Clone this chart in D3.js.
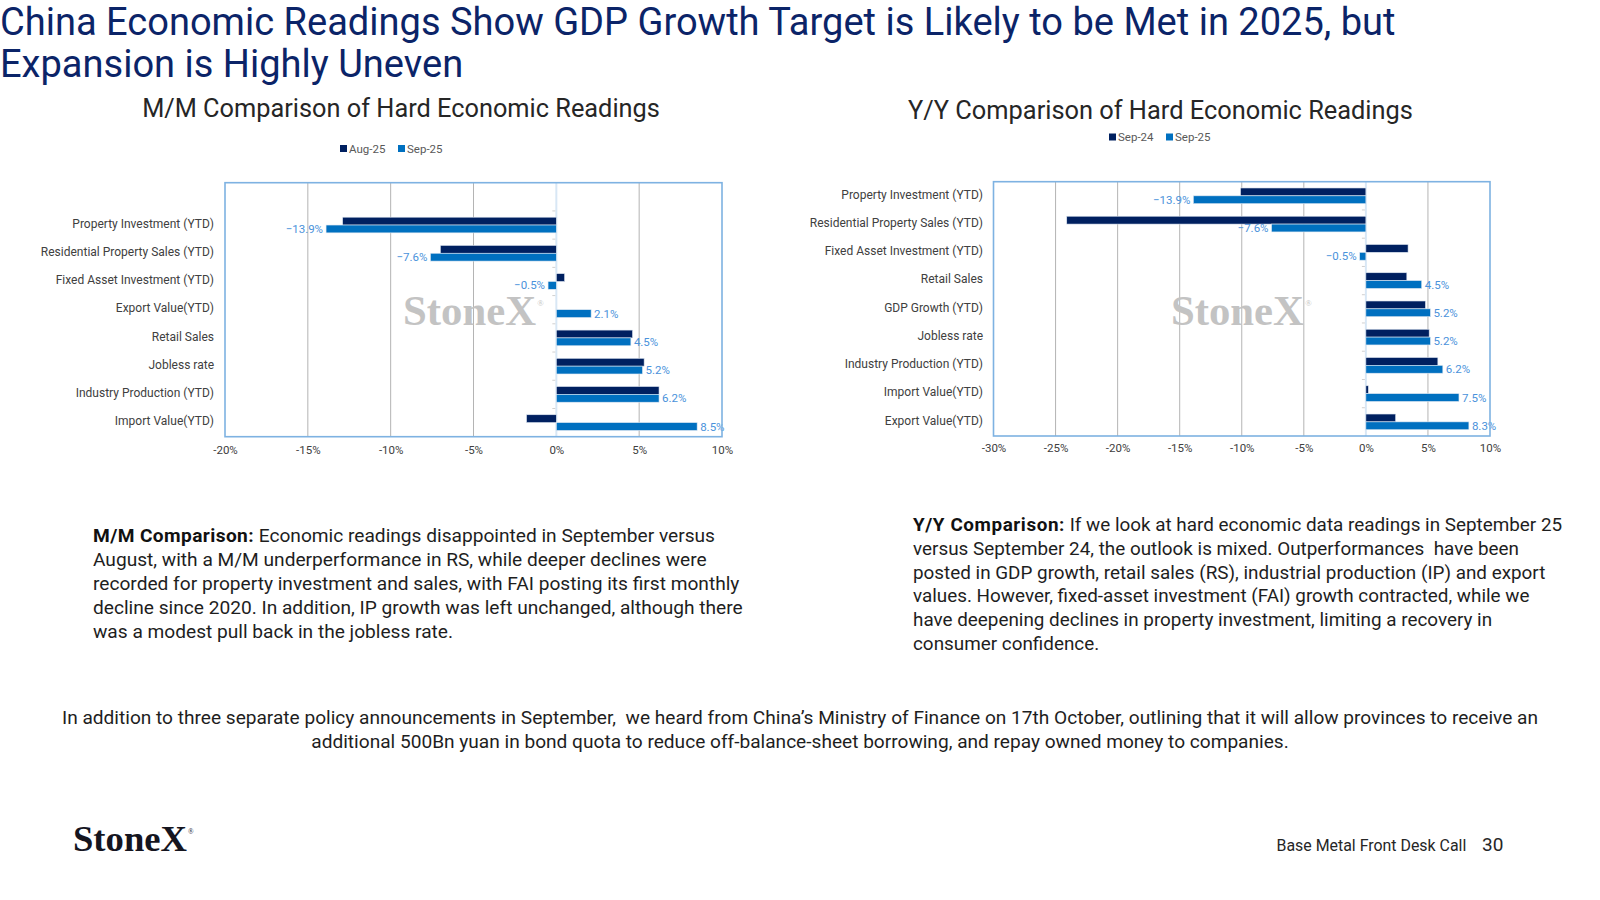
<!DOCTYPE html>
<html>
<head>
<meta charset="utf-8">
<script src="https://cdn.jsdelivr.net/npm/d3@7"></script>
<style>
  html, body { margin: 0; padding: 0; background: #ffffff; }
  svg { display: block; }
</style>
</head>
<body>
<svg id="chart" width="1600" height="900"></svg>
<script>
// ---------------- DATA ----------------
const mmCategories = ["Property Investment (YTD)", "Residential Property Sales (YTD)", "Fixed Asset Investment (YTD)", "Export Value(YTD)", "Retail Sales", "Jobless rate", "Industry Production (YTD)", "Import Value(YTD)"];
const mmSeriesNames = ["Aug-25", "Sep-25"];
const mmAug25 = [-12.9, -7.0, 0.5, null, 4.6, 5.3, 6.2, -1.8];
const mmSep25 = [-13.9, -7.6, -0.5, 2.1, 4.5, 5.2, 6.2, 8.5];
const mmTicks = [-20, -15, -10, -5, 0, 5, 10];

const yyCategories = ["Property Investment (YTD)", "Residential Property Sales (YTD)", "Fixed Asset Investment (YTD)", "Retail Sales", "GDP Growth (YTD)", "Jobless rate", "Industry Production (YTD)", "Import Value(YTD)", "Export Value(YTD)"];
const yySeriesNames = ["Sep-24", "Sep-25"];
const yySep24 = [-10.1, -24.1, 3.4, 3.3, 4.8, 5.1, 5.8, 0.2, 2.4];
const yySep25 = [-13.9, -7.6, -0.5, 4.5, 5.2, 5.2, 6.2, 7.5, 8.3];
const yyTicks = [-30, -25, -20, -15, -10, -5, 0, 5, 10];

const titleLines = ["China Economic Readings Show GDP Growth Target is Likely to be Met in 2025, but", "Expansion is Highly Uneven"];
const mmTitle = "M/M Comparison of Hard Economic Readings";
const yyTitle = "Y/Y Comparison of Hard Economic Readings";
const mmTextBold = "M/M Comparison:";
const mmTextLines = [" Economic readings disappointed in September versus", "August, with a M/M underperformance in RS, while deeper declines were", "recorded for property investment and sales, with FAI posting its first monthly", "decline since 2020. In addition, IP growth was left unchanged, although there", "was a modest pull back in the jobless rate."];
const yyTextBold = "Y/Y Comparison:";
const yyTextLines = [" If we look at hard economic data readings in September 25", "versus September 24, the outlook is mixed. Outperformances  have been", "posted in GDP growth, retail sales (RS), industrial production (IP) and export", "values. However, fixed-asset investment (FAI) growth contracted, while we", "have deepening declines in property investment, limiting a recovery in", "consumer confidence."];
const bottomLines = ["In addition to three separate policy announcements in September,  we heard from China’s Ministry of Finance on 17th October, outlining that it will allow provinces to receive an", "additional 500Bn yuan in bond quota to reduce off-balance-sheet borrowing, and repay owned money to companies."];
const footerText = "Base Metal Front Desk Call";
const pageNumber = "30";
const brand = "StoneX";

// ---------------- STYLE ----------------
const FONT = "Roboto, 'Liberation Sans', sans-serif";
const SERIF = "'Liberation Serif', 'DejaVu Serif', serif";
const C_DARK = "#002060";
const C_BLUE = "#0070C0";
const C_LABEL = "#4a92db";
const C_TITLE = "#0b2468";

const svg = d3.select("#chart");
svg.append("rect").attr("width", 1600).attr("height", 900).attr("fill", "#fff");

function fitWidth(sel, target) {
  const w = sel.node().getComputedTextLength();
  const fs = parseFloat(sel.attr("font-size"));
  const nfs = fs * target / w;
  sel.attr("font-size", nfs);
  return nfs;
}

function drawLogo(parent, x0, baseline, width, color) {
  const t = parent.append("text").attr("x", x0).attr("y", baseline)
    .attr("font-family", SERIF).attr("font-weight", "bold").attr("fill", color);
  const main = t.append("tspan").attr("font-size", 40).text(brand);
  const w = main.node().getComputedTextLength();
  const fs = 40 * width / w;
  main.attr("font-size", fs);
  t.append("tspan").attr("font-size", fs * 0.2).attr("font-weight", "normal")
    .attr("dx", fs * 0.03).attr("dy", -fs * 0.45).text("®");
  return t;
}

// ---------------- TITLE ----------------
const t1 = svg.append("text").attr("x", 0).attr("y", 34.5).attr("font-family", FONT)
  .attr("font-size", 36).attr("fill", C_TITLE).text(titleLines[0]);
const tfs = fitWidth(t1, 1396);
svg.append("text").attr("x", 0).attr("y", 76.5).attr("font-family", FONT)
  .attr("font-size", tfs).attr("fill", C_TITLE).text(titleLines[1]);

// ---------------- CHART FUNCTION ----------------
function drawChart(cfg) {
  const g = svg.append("g");
  const x = d3.scaleLinear().domain(cfg.domain).range([cfg.left, cfg.right]);
  const nBands = cfg.categories.length + cfg.blankBands;
  const bandH = (cfg.bottom - cfg.top) / nBands;
  const y = d3.scaleBand().domain(cfg.categories)
    .range([cfg.top + cfg.blankBands * bandH, cfg.bottom]).paddingInner(0).paddingOuter(0);
  const inner = d3.scaleBand().domain([0, 1]).range([0, y.bandwidth()]).paddingInner(0).paddingOuter(0.8);

  // subtitle
  const st = g.append("text").attr("x", cfg.titleX).attr("y", cfg.titleY).attr("text-anchor", "middle")
    .attr("font-family", FONT).attr("font-size", 24).attr("fill", "#262626").text(cfg.title);
  fitWidth(st, cfg.titleW);

  // legend
  const lg = g.append("g").attr("transform", `translate(0,${cfg.legendY})`);
  const lgColors = [C_DARK, C_BLUE];
  cfg.seriesNames.forEach((name, i) => {
    const lx = cfg.legendX[i];
    lg.append("rect").attr("x", lx).attr("y", -3.5).attr("width", 7).attr("height", 7).attr("fill", lgColors[i]);
    lg.append("text").attr("x", lx + 9).attr("y", 0).attr("dy", "0.35em")
      .attr("font-family", FONT).attr("font-size", 11.5).attr("fill", "#595959").text(name);
  });

  // gridlines
  g.append("g").selectAll("line").data(cfg.ticks.filter(t => t !== 0 && t !== cfg.domain[0] && t !== cfg.domain[1]))
    .join("line")
    .attr("x1", d => x(d)).attr("x2", d => x(d))
    .attr("y1", cfg.top).attr("y2", cfg.bottom)
    .attr("stroke", "#b4b4b4").attr("stroke-width", 1);

  // watermark
  drawLogo(g, x(cfg.wmStart), cfg.wmBaseline, 133, "#c3c3c3");

  // zero axis line + band ticks
  g.append("line").attr("x1", x(0)).attr("x2", x(0)).attr("y1", cfg.top).attr("y2", cfg.bottom)
    .attr("stroke", "#d8e7f5").attr("stroke-width", 2);
  const boundaries = d3.range(1, nBands).map(i => cfg.top + i * bandH);
  g.append("g").selectAll("line").data(boundaries).join("line")
    .attr("x1", x(0) - 4).attr("x2", x(0) - 1).attr("y1", d => d).attr("y2", d => d)
    .attr("stroke", "#d0d0d0").attr("stroke-width", 1);

  // bars
  const series = [cfg.s0, cfg.s1];
  const colors = [C_DARK, C_BLUE];
  series.forEach((vals, si) => {
    const rows = cfg.categories.map((c, i) => ({ c, v: vals[i] })).filter(d => d.v !== null);
    g.append("g").selectAll("rect").data(rows).join("rect")
      .attr("x", d => Math.min(x(0), x(d.v)))
      .attr("width", d => Math.abs(x(d.v) - x(0)))
      .attr("y", d => y(d.c) + inner(si))
      .attr("height", inner.bandwidth())
      .attr("fill", colors[si])
      .attr("stroke", "#dfe8f2").attr("stroke-width", 0.6);
  });

  // data labels (second series)
  const labRows = cfg.categories.map((c, i) => ({ c, v: cfg.s1[i] })).filter(d => d.v !== null);
  g.append("g").selectAll("text").data(labRows).join("text")
    .attr("x", d => d.v >= 0 ? x(d.v) + 3 : x(d.v) - 3)
    .attr("y", d => y(d.c) + inner(1) + inner.bandwidth() / 2)
    .attr("dy", "0.35em")
    .attr("text-anchor", d => d.v >= 0 ? "start" : "end")
    .attr("font-family", FONT).attr("font-size", 11.5).attr("fill", C_LABEL)
    .text(d => d3.format(".1f")(d.v) + "%");

  // plot border
  g.append("rect").attr("x", cfg.left).attr("y", cfg.top)
    .attr("width", cfg.right - cfg.left).attr("height", cfg.bottom - cfg.top)
    .attr("fill", "none").attr("stroke", "#7eb2e2").attr("stroke-width", 1.6);

  // category labels
  const catG = g.append("g").attr("font-family", FONT).attr("font-size", 12).attr("fill", "#404040");
  catG.selectAll("text").data(cfg.categories).join("text")
    .attr("x", cfg.labelRight).attr("y", d => y(d) + y.bandwidth() / 2 - 1.5)
    .attr("dy", "0.35em").attr("text-anchor", "end").text(d => d);

  // x axis tick labels
  const axis = d3.axisBottom(x).tickValues(cfg.ticks).tickSize(0).tickFormat(d => d + "%");
  const ax = g.append("g").attr("transform", `translate(0,${cfg.bottom})`).call(axis);
  ax.select(".domain").remove();
  ax.selectAll("text").attr("font-family", FONT).attr("font-size", 11.5).attr("fill", "#404040")
    .attr("y", cfg.tickDy);
}

drawChart({
  categories: mmCategories, s0: mmAug25, s1: mmSep25, seriesNames: mmSeriesNames,
  domain: [-20, 10], ticks: mmTicks, left: 225, right: 722, top: 182.7, bottom: 436.7, blankBands: 1,
  title: mmTitle, titleX: 401, titleY: 116.5, titleW: 518,
  legendY: 148.5, legendX: [340, 398], labelRight: 214, tickDy: 9, wmStart: -9.25, wmBaseline: 325
});
drawChart({
  categories: yyCategories, s0: yySep24, s1: yySep25, seriesNames: yySeriesNames,
  domain: [-30, 10], ticks: yyTicks, left: 993.5, right: 1490, top: 181.7, bottom: 436, blankBands: 0,
  title: yyTitle, titleX: 1160.5, titleY: 118.5, titleW: 505,
  legendY: 137, legendX: [1109, 1166], labelRight: 983, tickDy: 7.5, wmStart: -15.7, wmBaseline: 325
});

// ---------------- PARAGRAPHS ----------------
function paragraph(x0, y0, lh, bold, boldW, lines, refIdx, refW) {
  const texts = [];
  let boldSpan = null;
  lines.forEach((ln, i) => {
    const t = svg.append("text").attr("x", x0).attr("y", y0 + i * lh)
      .attr("font-family", FONT).attr("font-size", 18).attr("fill", "#1e1e1e")
      .style("white-space", "pre");
    if (i === 0 && bold) boldSpan = t.append("tspan").attr("font-weight", "bold").attr("fill", "#111").text(bold);
    t.append("tspan").text(ln);
    texts.push(t);
  });
  const fs = fitWidth(texts[refIdx], refW);
  texts.forEach(t => t.attr("font-size", fs));
  if (boldSpan) {
    const bw = boldSpan.node().getComputedTextLength();
    const ls = (boldW - bw) / bold.length;
    boldSpan.attr("letter-spacing", ls);
  }
}
paragraph(93, 542, 23.9, mmTextBold, 161, mmTextLines, 2, 647);
paragraph(913, 531, 23.8, yyTextBold, 152, yyTextLines, 2, 633);

// bottom centred paragraph
const b1 = svg.append("text").attr("x", 800).attr("y", 724).attr("text-anchor", "middle")
  .attr("font-family", FONT).attr("font-size", 18).attr("fill", "#1e1e1e").style("white-space", "pre").text(bottomLines[0]);
const bfs = fitWidth(b1, 1477);
svg.append("text").attr("x", 800).attr("y", 747.5).attr("text-anchor", "middle")
  .attr("font-family", FONT).attr("font-size", bfs).attr("fill", "#1e1e1e").style("white-space", "pre").text(bottomLines[1]);

// ---------------- FOOTER ----------------
drawLogo(svg, 73, 850.5, 114, "#15151f");

const ft = svg.append("text").attr("x", 1276.5).attr("y", 850.5).attr("font-family", FONT)
  .attr("font-size", 16).attr("fill", "#262626").text(footerText);
fitWidth(ft, 190);
svg.append("text").attr("x", 1482).attr("y", 851).attr("font-family", FONT)
  .attr("font-size", 19).attr("fill", "#262626").text(pageNumber);
</script>
</body>
</html>
